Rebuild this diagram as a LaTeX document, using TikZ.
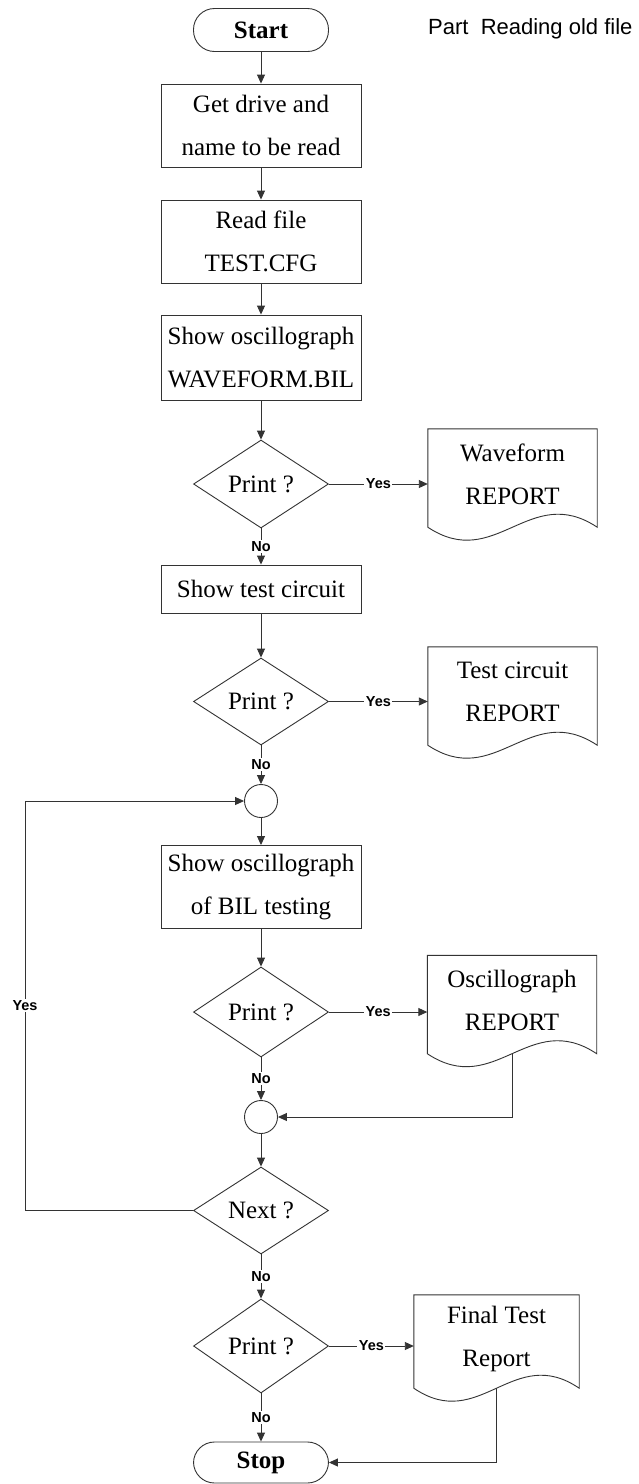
\documentclass[tikz,border=0pt]{standalone}
\usepackage{fontspec}
\setmainfont{Liberation Serif}
\newfontfamily\labfont{Liberation Sans}
\usetikzlibrary{shapes.geometric,arrows.meta,calc}
\tikzset{
  ln/.style={draw=black!80, line width=0.9pt},
  termbox/.style={ln, rectangle, rounded corners=21pt, minimum width=135pt, minimum height=43pt, inner sep=0pt, font=\bfseries\fontsize{25}{30}\selectfont},
  procbox/.style={ln, rectangle, minimum width=200pt, minimum height=83pt, inner sep=0pt, align=center, font=\fontsize{25}{43}\selectfont},
  decbox/.style={ln, diamond, minimum width=135pt, minimum height=88pt, inner sep=0pt, font=\fontsize{25}{30}\selectfont},
  joinc/.style={ln, circle, minimum size=33pt, inner sep=0pt},
  docnode/.style={rectangle, minimum width=169pt, minimum height=98pt, inner sep=0pt, align=center, font=\fontsize{25}{43}\selectfont},
  doctext/.style={align=center, inner sep=0pt, font=\fontsize{25}{43}\selectfont},
  flow/.style={ln, -{Triangle[length=9pt,width=8pt]}},
  lab/.style={fill=white, inner sep=1.5pt, font=\labfont\bfseries\fontsize{14.5}{14.5}\selectfont},
}
\begin{document}
\begin{tikzpicture}[x=1pt,y=-1pt]
\fill[white] (0,0) rectangle (638,1484);
\useasboundingbox (0,0) rectangle (638,1484);

\node[anchor=west, inner sep=0pt, font=\labfont\fontsize{22}{22}\selectfont] (title) at (428,29) {Part\ \ Reading old file};

\node[termbox] (start) at (261,30) {Start};
\node[procbox] (p1) at (261,125.5) {Get drive and\\name to be read};
\node[procbox] (p2) at (261,241.5) {Read file\\TEST.CFG};
\node[procbox, minimum height=85pt] (p3) at (261,357.5) {Show oscillograph\\WAVEFORM.BIL};
\node[decbox] (d1) at (261,484) {Print ?};
\node[docnode] (r1) at (512.5,478) {};
\node[doctext] at ($(r1.center)+(0,-4)$) {Waveform\\REPORT};
\node[procbox, minimum height=48pt] (p4) at (261,589) {Show test circuit};
\node[decbox, minimum height=87pt] (d2) at (261,701.5) {Print ?};
\node[docnode] (r2) at (512.5,696) {};
\node[doctext] at ($(r2.center)+(0,-4)$) {Test circuit\\REPORT};
\node[joinc] (c1) at (261,801) {};
\node[procbox] (p5) at (261,887) {Show oscillograph\\of BIL testing};
\node[decbox, minimum height=90pt] (d3) at (261,1012) {Print ?};
\node[docnode] (r3) at (512,1004.5) {};
\node[doctext] at ($(r3.center)+(0,-4)$) {Oscillograph\\REPORT};
\node[joinc] (c2) at (261,1117) {};
\node[decbox, minimum height=87pt] (d5) at (261,1210.5) {Next ?};
\node[decbox, minimum height=94pt] (d4) at (261,1346) {Print ?};
\node[docnode, minimum width=165pt, minimum height=93pt] (r4) at (496.5,1341.5) {};
\node[doctext] at ($(r4.center)+(0,-3)$) {Final Test\\Report};
\node[termbox, minimum height=41pt] (stop) at (261,1462.5) {Stop};

\foreach \r in {r1,r2,r3,r4}
  \draw[ln] (\r.south west) -- (\r.north west) -- (\r.north east) -- (\r.south east)
    .. controls ($(\r.south west)!0.6!(\r.south east)+(0,-45)$) and ($(\r.south west)!0.4!(\r.south east)+(0,45)$) .. (\r.south west) -- cycle;

\coordinate (lx) at (25,0);

\draw[flow] (start) -- (p1);
\draw[flow] (p1) -- (p2);
\draw[flow] (p2) -- (p3);
\draw[flow] (p3) -- (d1);
\draw[flow] (d1.east) -- node[lab]{Yes} (d1.east -| r1.west);
\draw[flow] (d1) -- node[lab]{No} (p4);
\draw[flow] (p4) -- (d2);
\draw[flow] (d2.east) -- node[lab]{Yes} (d2.east -| r2.west);
\draw[flow] (d2) -- node[lab]{No} (c1);
\draw[flow] (c1) -- (p5);
\draw[flow] (p5) -- (d3);
\draw[flow] (d3.east) -- node[lab]{Yes} (d3.east -| r3.west);
\draw[flow] (d3) -- node[lab]{No} (c2);
\draw[flow] (r3.south) -- (r3.south |- c2) -- (c2);
\draw[flow] (c2) -- (d5);
\draw[flow] (d5) -- node[lab]{No} (d4);
\draw[flow] (d4.east) -- node[lab]{Yes} (d4.east -| r4.west);
\draw[flow] (d4) -- node[lab]{No} (stop);
\draw[flow] (r4.south) -- (r4.south |- stop) -- (stop);
\draw[flow] (d5.west) -- (d5.west -| lx) -- node[lab]{Yes} (c1 -| lx) -- (c1);
\end{tikzpicture}
\end{document}
